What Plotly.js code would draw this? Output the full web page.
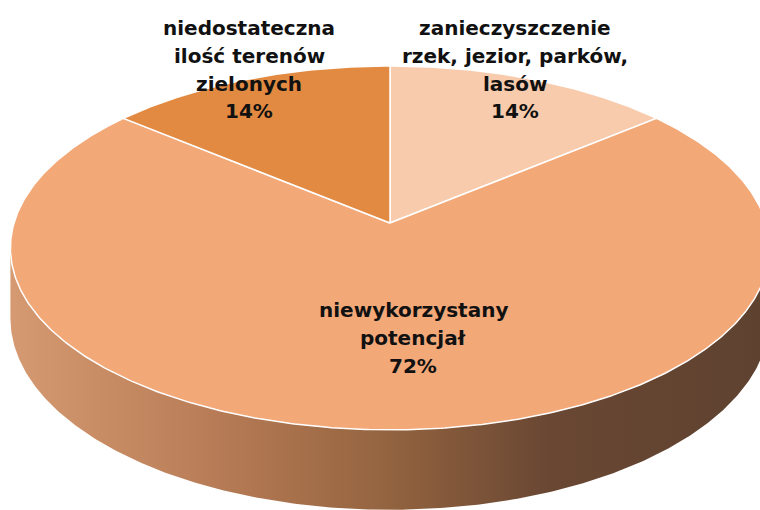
<!DOCTYPE html>
<html><head><meta charset="utf-8">
<script src="https://cdn.plot.ly/plotly-3.0.1.min.js"></script>
<style>html,body{margin:0;padding:0;background:#fff}</style>
</head><body><div id="chart" style="width:760px;height:510px"></div>
<script>
// ---- data ----
const categories = ['zanieczyszczenie rzek, jezior, parków, lasów', 'niewykorzystany potencjał', 'niedostateczna ilość terenów zielonych'];
const labelLines = [['zanieczyszczenie', 'rzek, jezior, parków,', 'lasów'], ['niewykorzystany', 'potencjał'], ['niedostateczna', 'ilość terenów', 'zielonych']];
const values = [14, 72, 14];

// ---- style ----
const sliceColors = ['#F8CBAD', '#F3A878', '#E28A42'];
const sideScale = [[0, '#D69A72'], [0.25, '#BA7E58'], [0.5, '#93633F'], [0.71, '#694733'], [1, '#5E4230']];
const geo = {cx: 390, cy: 223, a: 376, b: 178.5, k: 0.137, depth: 69};
const labelPos = [{x: 515, y: 28}, {x: 413, y: 310}, {x: 249, y: 28}];
const lineGap = 27.8;

function proj(deg, r) {
  const t = deg * Math.PI / 180;
  const u = r * Math.sin(t), v = r * Math.cos(t);
  const w = 1 + geo.k * v;
  return {x: geo.cx + geo.a * u / w, y: geo.cy - geo.b * v / w, w: w};
}

const total = values.reduce((s, v) => s + v, 0);
const traces = [];

// side wall (visible front part)
const edge = Math.asin(geo.k) * 180 / Math.PI;
const sx = [], sy = [], bx = [], by = [];
for (let d = 90 + edge; d <= 270 - edge + 1e-9; d += 0.5) {
  const p = proj(d, 1);
  sx.push(p.x); sy.push(p.y);
  bx.push(p.x); by.push(p.y + geo.depth / p.w);
}
traces.push({
  type: 'scatter', mode: 'lines', x: sx.concat(bx.reverse()), y: sy.concat(by.reverse()),
  fill: 'toself', line: {width: 0, color: 'rgba(0,0,0,0)'},
  fillgradient: {type: 'horizontal', colorscale: sideScale},
  hoverinfo: 'skip', showlegend: false
});

// top face slices
let start = 0;
values.forEach((val, i) => {
  const span = val / total * 360;
  const xs = [geo.cx], ys = [geo.cy];
  const n = Math.max(8, Math.ceil(span * 2));
  for (let j = 0; j <= n; j++) {
    const p = proj(start + span * j / n, 1);
    xs.push(p.x); ys.push(p.y);
  }
  xs.push(geo.cx); ys.push(geo.cy);
  traces.push({
    type: 'scatter', mode: 'lines', x: xs, y: ys, fill: 'toself',
    fillcolor: sliceColors[i], line: {color: '#ffffff', width: 1.5},
    name: categories[i], hoverinfo: 'name', showlegend: false
  });
  start += span;
});

const annotations = [];
values.forEach((val, i) => {
  const lines = labelLines[i].concat([Math.round(val / total * 100) + '%']);
  lines.forEach((ln, j) => {
    annotations.push({
      x: labelPos[i].x, y: labelPos[i].y + j * lineGap, xref: 'x', yref: 'y',
      text: '<b>' + ln + '</b>',
      showarrow: false, align: 'center', xanchor: 'center', yanchor: 'middle',
      font: {family: 'DejaVu Sans, sans-serif', size: 20, color: '#111111'}
    });
  });
});

Plotly.newPlot('chart', traces, {
  width: 760, height: 510,
  margin: {l: 0, r: 0, t: 0, b: 0},
  paper_bgcolor: '#ffffff', plot_bgcolor: '#ffffff',
  xaxis: {range: [0, 760], visible: false, fixedrange: true},
  yaxis: {range: [510, 0], visible: false, fixedrange: true},
  annotations: annotations,
  showlegend: false
}, {displayModeBar: false, staticPlot: true});
</script>
</body></html>
